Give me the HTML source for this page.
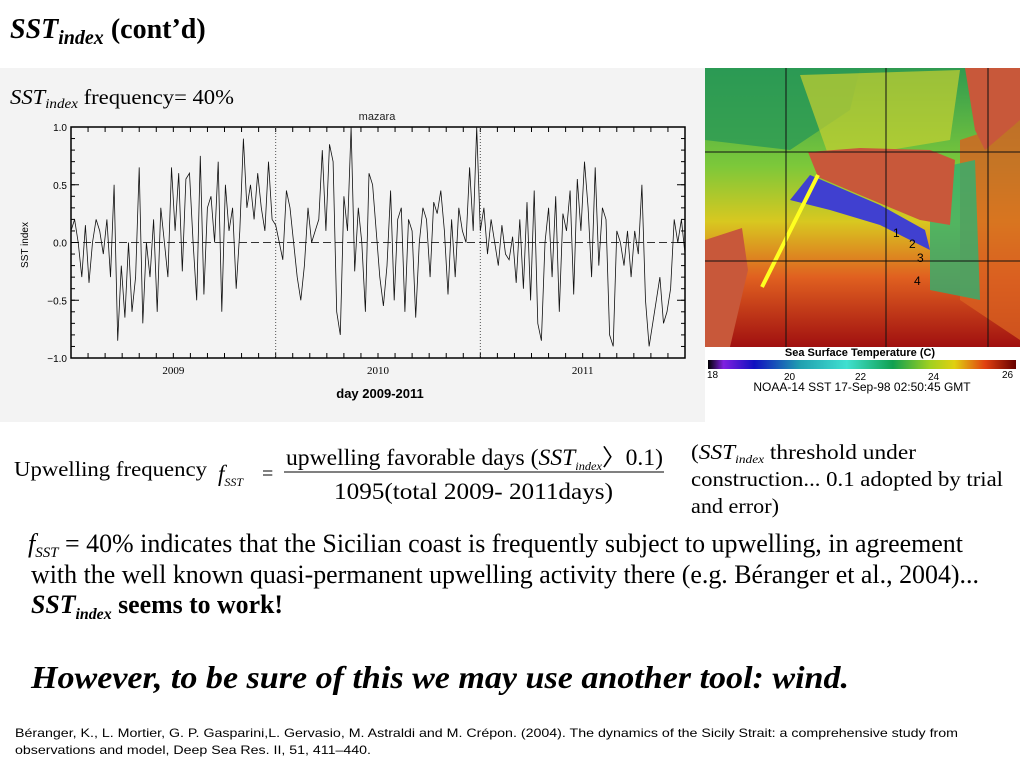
<!DOCTYPE html>
<html><head><meta charset="utf-8"><style>
html,body{margin:0;padding:0;background:#fff;width:1024px;height:768px;overflow:hidden}
svg{display:block}
.s{font-family:"Liberation Serif",serif}
.a{font-family:"Liberation Sans",sans-serif}
</style></head><body>
<svg id="slide" width="1024" height="768" viewBox="0 0 1024 768">
<text class="s" x="10" y="38" font-size="28" font-weight="bold" font-style="italic">SST<tspan font-size="20" dy="6">index</tspan><tspan dy="-6" font-style="normal"> (cont’d)</tspan></text>
<rect x="0" y="68" width="705" height="354" fill="#f3f3f3"/>
<text class="s" x="10" y="104" font-size="21" font-style="italic" textLength="224" lengthAdjust="spacingAndGlyphs">SST<tspan font-size="14" dy="4">index</tspan><tspan dy="-4" font-style="normal"> frequency= 40%</tspan></text>
<text class="a" x="377" y="120" font-size="11" text-anchor="middle" fill="#222">mazara</text>
<g id="chart"></g>
<text class="a" x="380" y="398" font-size="13" font-weight="bold" text-anchor="middle">day 2009-2011</text>
<text class="a" x="0" y="0" font-size="10" transform="translate(28,245) rotate(-90)" text-anchor="middle">SST index</text>

<g>
<defs>
<linearGradient id="sea" x1="0" y1="0" x2="0" y2="1">
<stop offset="0" stop-color="#2f9a50"/><stop offset="0.35" stop-color="#7cc83a"/><stop offset="0.55" stop-color="#d8c820"/><stop offset="0.75" stop-color="#e06020"/><stop offset="1" stop-color="#a01010"/></linearGradient>
<linearGradient id="cb" x1="0" y1="0" x2="1" y2="0">
<stop offset="0" stop-color="#000"/><stop offset="0.05" stop-color="#8020e0"/><stop offset="0.15" stop-color="#1010c0"/><stop offset="0.3" stop-color="#20a0b0"/><stop offset="0.45" stop-color="#40e0d0"/><stop offset="0.6" stop-color="#10a050"/><stop offset="0.72" stop-color="#a0d020"/><stop offset="0.8" stop-color="#e0d010"/><stop offset="0.9" stop-color="#e04010"/><stop offset="1" stop-color="#600"/></linearGradient>
</defs>
<rect x="705" y="68" width="315" height="279" fill="url(#sea)"/>
<path d="M705 68 H860 L850 110 L790 150 L705 140 Z" fill="#2a9a55" opacity="0.8"/>
<path d="M800 75 L960 70 L950 140 L830 160 Z" fill="#c8d030" opacity="0.7"/>
<path d="M960 140 L1020 120 L1020 340 L960 300 Z" fill="#d86020" opacity="0.8"/>
<path d="M930 170 L975 160 L980 300 L930 290 Z" fill="#30b070" opacity="0.8"/>
<path d="M810 175 L790 200 L830 210 L880 225 L930 250 L925 230 L880 205 Z" fill="#4040d0"/>
<path d="M808 152 L860 148 L930 150 L955 160 L950 225 L920 220 L860 195 L818 177 Z" fill="#c8583a"/>
<path d="M965 68 L1020 68 L1020 120 L985 150 L975 130 Z" fill="#c8583a"/>
<path d="M705 240 L742 228 L748 270 L730 347 L705 347 Z" fill="#c8583a"/>
<line x1="818" y1="175" x2="762" y2="287" stroke="#ffff20" stroke-width="4"/>
<g stroke="#111" stroke-width="1"><line x1="786" y1="68" x2="786" y2="347"/><line x1="886" y1="68" x2="886" y2="347"/><line x1="988" y1="68" x2="988" y2="347"/><line x1="705" y1="152" x2="1020" y2="152"/><line x1="705" y1="261" x2="1020" y2="261"/></g>
<g class="a" font-size="12"><text x="893" y="237">1</text><text x="909" y="248">2</text><text x="917" y="262">3</text><text x="914" y="285">4</text></g>
<rect x="705" y="347" width="315" height="48" fill="#fff"/>
<text class="a" x="860" y="356" font-size="11" font-weight="bold" text-anchor="middle">Sea Surface Temperature (C)</text>
<rect x="708" y="360" width="308" height="9" fill="url(#cb)"/>
<g class="a" font-size="10"><text x="707" y="378">18</text><text x="784" y="380">20</text><text x="855" y="380">22</text><text x="928" y="380">24</text><text x="1002" y="378">26</text></g>
<text class="a" x="862" y="391" font-size="12" text-anchor="middle">NOAA-14 SST 17-Sep-98 02:50:45 GMT</text>
</g>

<g class="s">
<text x="14" y="476" font-size="21" textLength="193" lengthAdjust="spacingAndGlyphs">Upwelling frequency</text>
<text x="218" y="481" font-size="23" font-style="italic">f<tspan font-size="12" dy="5">SST</tspan></text>
<text x="262" y="480" font-size="20">=</text>
<text x="286" y="465" font-size="23" textLength="377" lengthAdjust="spacingAndGlyphs">upwelling favorable days (<tspan font-style="italic">SST</tspan><tspan font-style="italic" font-size="12" dy="5">index</tspan><tspan dy="-5">〉0.1)</tspan></text>
<line x1="284" y1="472" x2="664" y2="472" stroke="#000" stroke-width="1"/>
<text x="334" y="499" font-size="23" textLength="279" lengthAdjust="spacingAndGlyphs">1095(total 2009- 2011days)</text>
<text x="691" y="459" font-size="21" textLength="225" lengthAdjust="spacingAndGlyphs">(<tspan font-style="italic">SST</tspan><tspan font-style="italic" font-size="12" dy="4">index</tspan><tspan dy="-4"> threshold under</tspan></text>
<text x="691" y="486" font-size="21" textLength="312" lengthAdjust="spacingAndGlyphs">construction... 0.1 adopted by trial</text>
<text x="691" y="513" font-size="21" textLength="88" lengthAdjust="spacingAndGlyphs">and error)</text>
</g>
<g class="s" font-size="26">
<text x="28" y="552" textLength="935" lengthAdjust="spacingAndGlyphs"><tspan font-style="italic">f</tspan><tspan font-style="italic" font-size="15" dy="5">SST</tspan><tspan dy="-5"> = 40% indicates that the Sicilian coast is frequently subject to upwelling, in agreement</tspan></text>
<text x="31" y="583" textLength="948" lengthAdjust="spacingAndGlyphs">with the well known quasi-permanent upwelling activity there (e.g. Béranger et al., 2004)...</text>
<text x="31" y="613" font-weight="bold" textLength="252" lengthAdjust="spacingAndGlyphs"><tspan font-style="italic">SST</tspan><tspan font-style="italic" font-size="16" dy="6">index</tspan><tspan dy="-6"> seems to work!</tspan></text>
</g>
<text class="s" x="31" y="688" font-size="32" font-weight="bold" font-style="italic" textLength="818" lengthAdjust="spacingAndGlyphs">However, to be sure of this we may use another tool: wind.</text>
<g class="a" font-size="12">
<text x="15" y="737" textLength="943" lengthAdjust="spacingAndGlyphs">Béranger, K., L. Mortier, G. P. Gasparini,L. Gervasio, M. Astraldi and M. Crépon. (2004). The dynamics of the Sicily Strait: a comprehensive study from</text>
<text x="15" y="754" textLength="356" lengthAdjust="spacingAndGlyphs">observations and model, Deep Sea Res. II, 51, 411–440.</text>
</g>
</svg>
<script>
const sstValues=[0.1,0.2,0.0,-0.3,0.15,-0.35,0.0,0.2,0.1,-0.1,0.2,-0.3,0.5,-0.85,-0.2,-0.65,0.0,-0.6,-0.3,0.65,-0.7,0.0,-0.3,0.2,-0.6,0.3,0.0,-0.3,0.65,0.1,0.6,-0.25,0.55,0.6,0.0,-0.5,0.75,-0.45,0.3,0.4,0.0,0.7,-0.6,0.5,0.1,0.3,-0.4,0.1,0.9,0.3,0.5,0.2,0.6,0.3,0.1,0.7,0.2,0.15,0.0,-0.15,
0.45,0.3,0.0,-0.3,-0.5,-0.2,0.3,0.0,0.1,0.2,0.8,0.1,0.85,0.7,-0.6,-0.8,0.4,0.1,1.0,-0.25,0.3,0.0,-0.6,0.6,0.5,0.1,-0.3,-0.55,-0.2,0.45,-0.5,0.2,0.3,-0.6,0.2,0.1,-0.65,0.0,0.3,0.2,-0.3,0.35,0.25,0.45,0.1,-0.45,0.2,-0.3,0.3,0.1,0.0,0.65,0.1,1.0,0.1,0.3,-0.1,0.2,0.0,-0.2,
0.15,-0.1,-0.15,0.05,-0.35,0.2,-0.4,0.35,-0.5,0.45,-0.7,-0.85,0.0,0.3,-0.3,0.4,-0.6,0.25,0.1,0.45,-0.45,0.55,0.1,0.7,0.3,-0.3,0.65,-0.2,0.3,0.2,-0.8,-0.9,0.1,0.0,-0.2,0.1,-0.3,0.1,-0.1,0.5,-0.5,-0.9,-0.7,-0.5,-0.3,-0.7,-0.6,-0.4,0.2,0.0,0.2,-0.1];
const yTicks=[1.0,0.5,0.0,-0.5,-1.0];
const yTickLabels=["1.0","0.5","0.0","−0.5","−1.0"];
const yearLabels=["2009","2010","2011"];
const totalDays=1095;
const NS="http://www.w3.org/2000/svg";
const X0=71,X1=685,Y0=127,Y1=358;
const xs=d=>X0+d*(X1-X0)/totalDays;
const ys=v=>Y0+(1-v)/2*(Y1-Y0);
const g=document.getElementById('chart');
function mk(t,a){const e=document.createElementNS(NS,t);for(const k in a)e.setAttribute(k,a[k]);g.appendChild(e);return e;}
const frame=mk('rect',{x:X0,y:Y0,width:X1-X0,height:Y1-Y0,fill:'none',stroke:'#000','stroke-width':1.5});


const zl=mk('line',{x1:X0,x2:X1,y1:ys(0),y2:ys(0),stroke:'#333','stroke-dasharray':'8,4'});


yTicks.forEach((v,i)=>{
  mk('line',{x1:X0,x2:X0+8,y1:ys(v),y2:ys(v),stroke:'#000'});
  mk('line',{x1:X1-8,x2:X1,y1:ys(v),y2:ys(v),stroke:'#000'});
  const t=mk('text',{x:X0-4,y:ys(v)+4,'font-size':10,'text-anchor':'end','font-family':'Liberation Sans'});
  t.textContent=yTickLabels[i];
  
  
});
for(let v=-0.9;v<1;v+=0.1){mk('line',{x1:X0,x2:X0+4,y1:ys(v),y2:ys(v),stroke:'#000'});mk('line',{x1:X1-4,x2:X1,y1:ys(v),y2:ys(v),stroke:'#000'});}
for(let m=1;m<36;m++){const x=xs(m*totalDays/36);mk('line',{x1:x,x2:x,y1:Y1,y2:Y1-5,stroke:'#000'});mk('line',{x1:x,x2:x,y1:Y0,y2:Y0+5,stroke:'#000'});}
yearLabels.forEach((l,i)=>{
  const t=mk('text',{x:xs((i+0.5)*totalDays/3),y:Y1+16,'font-size':11,'text-anchor':'middle','font-family':'Liberation Serif'});
  t.textContent=l;
  
  
  if(i>0){const d=mk('line',{x1:xs(i*totalDays/3),x2:xs(i*totalDays/3),y1:Y0,y2:Y1,stroke:'#555','stroke-dasharray':'1,2'});
    
    }
});
const n=sstValues.length;
const pts=sstValues.map((v,i)=>xs(i*totalDays/(n-1)).toFixed(1)+','+ys(v).toFixed(1)).join(' ');
const line=mk('polyline',{points:pts,fill:'none',stroke:'#111','stroke-width':0.8});


</script>
</body></html>
